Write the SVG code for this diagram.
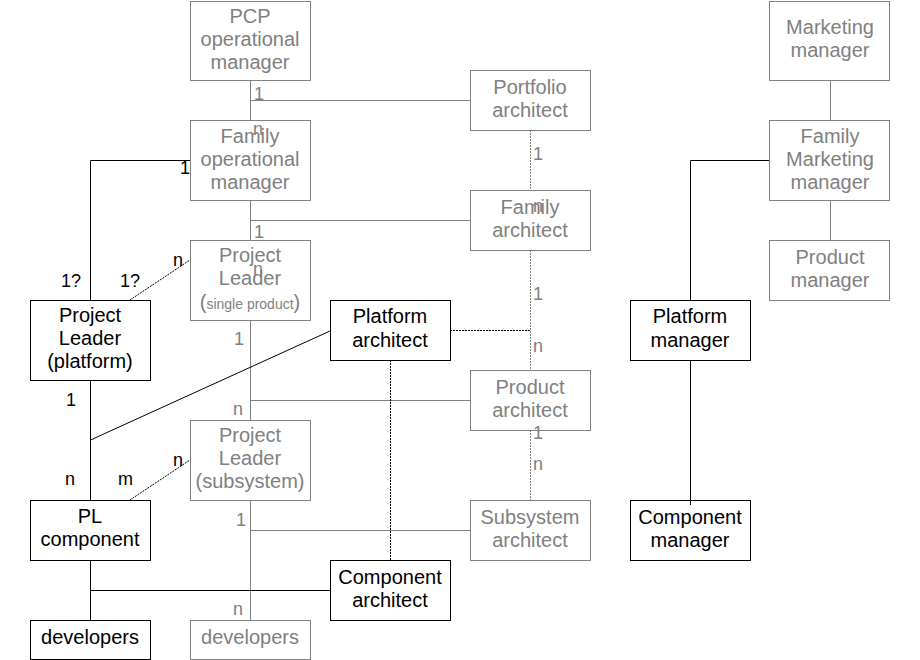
<svg xmlns="http://www.w3.org/2000/svg" width="920" height="660" viewBox="0 0 920 660">
<style>
text{font-family:"Liberation Sans",Arial,sans-serif;}
.g rect{fill:#fff;stroke:#808080;stroke-width:1;}
.g text{fill:#808080;font-size:20px;text-anchor:middle;}
.b rect{fill:#fff;stroke:#000;stroke-width:1;}
.b text{fill:#000;font-size:20px;text-anchor:middle;}
.gl{stroke:#808080;stroke-width:1;fill:none;}
.bl{stroke:#000;stroke-width:1;fill:none;}
.gd{stroke:#808080;stroke-width:1;fill:none;stroke-dasharray:2,1;}
.bd{stroke:#000;stroke-width:1;fill:none;stroke-dasharray:2,1;}
.lg{fill:#808080;font-size:18px;}
.lb{fill:#000;font-size:18px;}
</style>
<rect width="920" height="660" fill="#fff"/>
<g id="connectors">
<path class="gl" d="M250.5 80V120M250.5 100.5H470M250.5 200V240M250.5 220.5H470M250.5 320V420M250.5 400.5H470M250.5 500V620M250.5 530.5H470"/>
<path class="gl" d="M830.5 80V120M830.5 200V240"/>
<path class="gd" d="M530.5 130V190M530.5 250V370M530.5 430V500"/>
<path class="bd" d="M450 330.5H530.5M390.5 360V560M130 300L190 260M130 500L190 460"/>
<path class="bl" d="M90.5 300V160.5H190M90.5 380V500M90.5 440L330 331M90.5 560V620M90.5 590.5H330"/>
<path class="bl" d="M770 160.5H690.5V300M690.5 360V505"/>
</g>
<g id="pcp-op-mgr" class="g"><rect x="190.5" y="1.5" width="120" height="79"/><text x="250" y="23">PCP</text><text x="250" y="46">operational</text><text x="250" y="69">manager</text></g>
<g id="family-op-mgr" class="g"><rect x="190.5" y="120.5" width="120" height="80"/><text x="250" y="143">Family</text><text x="250" y="166">operational</text><text x="250" y="189">manager</text></g>
<g id="pl-single" class="g"><rect x="190.5" y="240.5" width="120" height="80"/><text x="250" y="262">Project</text><text x="250" y="285">Leader</text><text x="250" y="309">(<tspan font-size="14">single product</tspan>)</text></g>
<g id="pl-subsystem" class="g"><rect x="190.5" y="420.5" width="120" height="80"/><text x="250" y="442">Project</text><text x="250" y="465">Leader</text><text x="250" y="488">(subsystem)</text></g>
<g id="developers-gray" class="g"><rect x="190.5" y="620.5" width="120" height="39"/><text x="250" y="644">developers</text></g>
<g id="portfolio-arch" class="g"><rect x="470.5" y="70.5" width="120" height="60"/><text x="530" y="94">Portfolio</text><text x="530" y="117">architect</text></g>
<g id="family-arch" class="g"><rect x="470.5" y="190.5" width="120" height="60"/><text x="530" y="214">Family</text><text x="530" y="237">architect</text></g>
<g id="product-arch" class="g"><rect x="470.5" y="370.5" width="120" height="60"/><text x="530" y="394">Product</text><text x="530" y="417">architect</text></g>
<g id="subsystem-arch" class="g"><rect x="470.5" y="500.5" width="120" height="60"/><text x="530" y="524">Subsystem</text><text x="530" y="547">architect</text></g>
<g id="marketing-mgr" class="g"><rect x="769.5" y="1.5" width="120" height="79"/><text x="830" y="34">Marketing</text><text x="830" y="57">manager</text></g>
<g id="family-marketing-mgr" class="g"><rect x="769.5" y="120.5" width="120" height="80"/><text x="830" y="143">Family</text><text x="830" y="166">Marketing</text><text x="830" y="189">manager</text></g>
<g id="product-mgr" class="g"><rect x="769.5" y="240.5" width="120" height="60"/><text x="830" y="264">Product</text><text x="830" y="287">manager</text></g>
<g id="pl-platform" class="b"><rect x="30.5" y="300.5" width="120" height="80"/><text x="90" y="322">Project</text><text x="90" y="345">Leader</text><text x="90" y="368">(platform)</text></g>
<g id="pl-component" class="b"><rect x="30.5" y="500.5" width="120" height="60"/><text x="90" y="523">PL</text><text x="90" y="546">component</text></g>
<g id="developers-black" class="b"><rect x="30.5" y="620.5" width="120" height="39"/><text x="90" y="644">developers</text></g>
<g id="platform-arch" class="b"><rect x="330.5" y="300.5" width="120" height="60"/><text x="390" y="323">Platform</text><text x="390" y="347">architect</text></g>
<g id="component-arch" class="b"><rect x="330.5" y="560.5" width="120" height="60"/><text x="390" y="584">Component</text><text x="390" y="607">architect</text></g>
<g id="platform-mgr" class="b"><rect x="630.5" y="300.5" width="120" height="60"/><text x="690" y="323">Platform</text><text x="690" y="347">manager</text></g>
<g id="component-mgr" class="b"><rect x="630.5" y="500.5" width="120" height="60"/><text x="690" y="524">Component</text><text x="690" y="547">manager</text></g>
<path class="bl" d="M690.5 500V505"/>
<g id="labels">
<text class="lg" x="254" y="100">1</text>
<text class="lg" x="253" y="135">n</text>
<text class="lb" x="180" y="174">1</text>
<text class="lg" x="254" y="238">1</text>
<text class="lg" x="253" y="275">n</text>
<text class="lb" x="61" y="287">1?</text>
<text class="lb" x="120" y="287">1?</text>
<text class="lb" x="173" y="266">n</text>
<text class="lg" x="234" y="345">1</text>
<text class="lb" x="66" y="406">1</text>
<text class="lg" x="233" y="415">n</text>
<text class="lb" x="65" y="485">n</text>
<text class="lb" x="118" y="485">m</text>
<text class="lb" x="173" y="466">n</text>
<text class="lg" x="236" y="526">1</text>
<text class="lg" x="233" y="615">n</text>
<text class="lg" x="533" y="160">1</text>
<text class="lg" x="533" y="212">n</text>
<text class="lg" x="533" y="300">1</text>
<text class="lg" x="533" y="352">n</text>
<text class="lg" x="533" y="439">1</text>
<text class="lg" x="533" y="470">n</text>
</g>
</svg>
